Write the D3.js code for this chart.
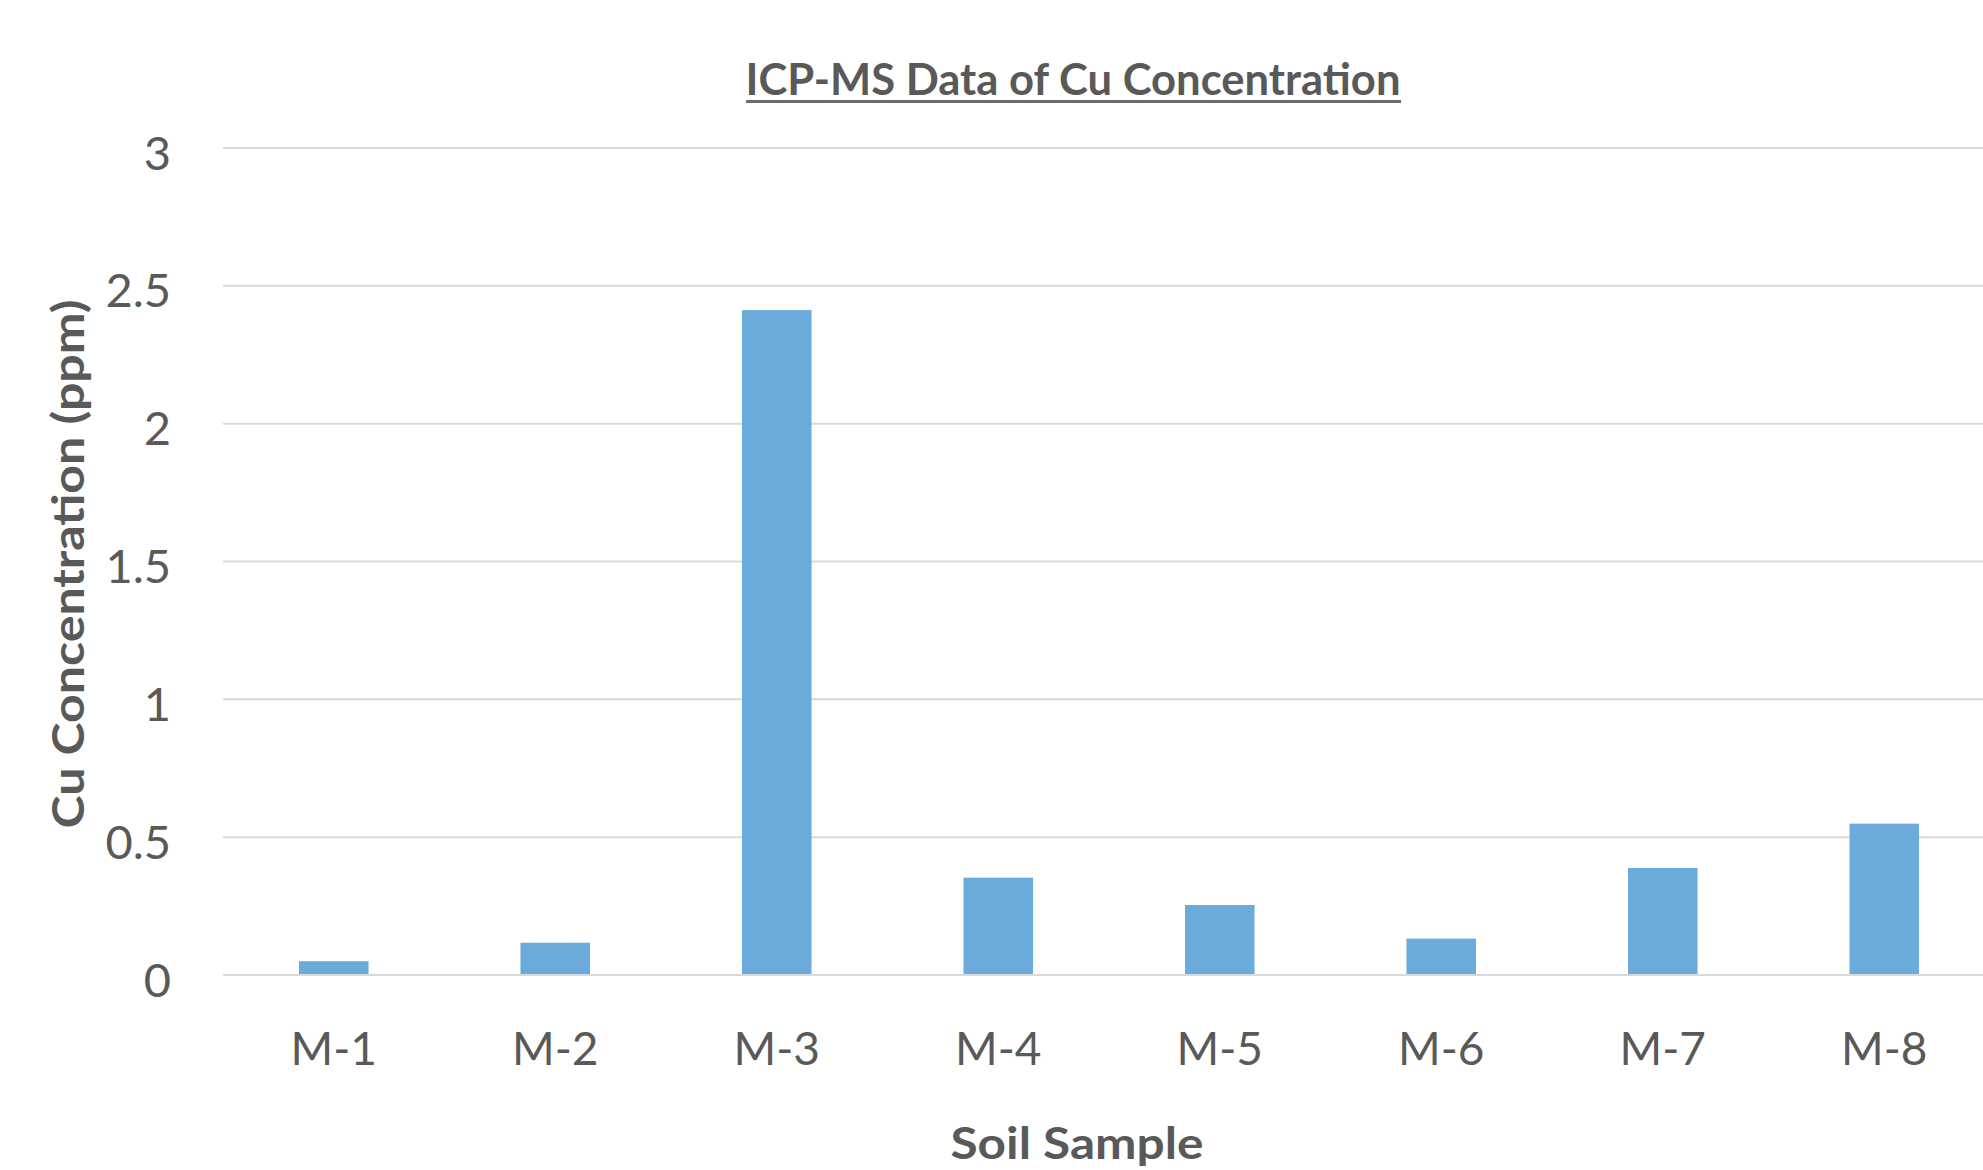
<!DOCTYPE html>
<html><head><meta charset="utf-8">
<script src="https://cdn.jsdelivr.net/npm/d3@7"></script>
<style>html,body{margin:0;padding:0;background:#fff;overflow:hidden}</style>
</head><body>
<svg id="chart" width="1983" height="1170"></svg>
<script>
const categories = ["M-1","M-2","M-3","M-4","M-5","M-6","M-7","M-8"];
const values = [0.05, 0.117, 2.412, 0.353, 0.254, 0.132, 0.388, 0.549];
const yTicks = [0, 0.5, 1, 1.5, 2, 2.5, 3];
const yTickLabels = ["0","0.5","1","1.5","2","2.5","3"];
const titleText = "ICP-MS Data of Cu Concentration";
const xTitle = "Soil Sample";
const yTitle = "Cu Concentration (ppm)";

const W = 1983, H = 1170;
const m = {left: 223, right: -12, top: 148, bottom: 1170 - 975};
const svg = d3.select("#chart");
const textColor = "#595959";
const font = "Lato, 'Open Sans', sans-serif";

const x = d3.scaleBand().domain(categories).range([m.left, W - m.right]).paddingInner(0.686).paddingOuter(0.343);
const y = d3.scaleLinear().domain([0, 3]).range([H - m.bottom, m.top]);

// gridlines
svg.append("g").selectAll("line").data(yTicks).join("line")
  .attr("x1", m.left).attr("x2", W - m.right)
  .attr("y1", d => y(d)).attr("y2", d => y(d))
  .attr("stroke", "#d9d9d9").attr("stroke-width", 2);

// bars
svg.append("g").selectAll("rect").data(values).join("rect")
  .attr("x", (d, i) => x(categories[i]))
  .attr("width", x.bandwidth())
  .attr("y", d => y(d))
  .attr("height", d => y(0) - y(d) - 1)
  .attr("fill", "#6babdc");

// y axis labels
const yAxis = d3.axisLeft(y).tickValues(yTicks).tickFormat((d, i) => yTickLabels[i]).tickSize(0).tickPadding(0);
const yg = svg.append("g").attr("transform", `translate(171,6)`).call(yAxis);
yg.select(".domain").remove();
yg.selectAll("text").attr("fill", textColor).style("font-family", font).style("font-size", "47px");

// x axis labels
const xAxis = d3.axisBottom(x).tickSize(0).tickPadding(0);
const xg = svg.append("g").attr("transform", `translate(0,0)`).call(xAxis);
xg.select(".domain").remove();
xg.selectAll("text").attr("y", 1065).attr("dy", null).attr("fill", textColor)
  .style("font-family", font).style("font-size", "46px");

// title
svg.append("text").attr("x", 1073).attr("y", 95).attr("text-anchor", "middle")
  .attr("fill", textColor).style("font-family", font).style("font-weight", "bold")
  .style("font-size", "44px").attr("textLength", 655).attr("lengthAdjust", "spacingAndGlyphs")
  .text(titleText);
svg.append("line").attr("x1", 746).attr("x2", 1401).attr("y1", 101.5).attr("y2", 101.5)
  .attr("stroke", "#6b6b6b").attr("stroke-width", 3);

// axis titles
svg.append("text").attr("x", 1077).attr("y", 1159).attr("text-anchor", "middle")
  .attr("fill", textColor).style("font-family", font).style("font-weight", "bold")
  .style("font-size", "44px").attr("textLength", 253).attr("lengthAdjust", "spacingAndGlyphs")
  .text(xTitle);
svg.append("text").attr("transform", "translate(84,564) rotate(-90)").attr("text-anchor", "middle")
  .attr("fill", textColor).style("font-family", font).style("font-weight", "bold")
  .style("font-size", "44px").attr("textLength", 529).attr("lengthAdjust", "spacingAndGlyphs")
  .text(yTitle);
</script>
</body></html>
